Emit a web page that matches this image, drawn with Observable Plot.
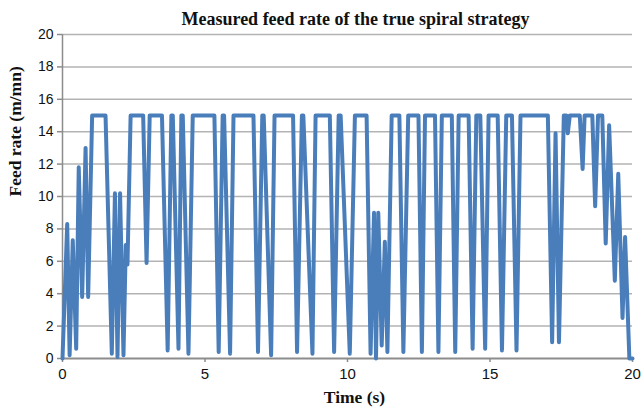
<!DOCTYPE html>
<html>
<head>
<meta charset="utf-8">
<script src="https://cdn.jsdelivr.net/npm/d3@7"></script>
<script src="https://cdn.jsdelivr.net/npm/@observablehq/plot@0.6"></script>
<style>
  html, body { margin: 0; padding: 0; background: #fff; }
  #chart svg { display: block; }
</style>
</head>
<body>
<div id="chart"></div>
<script>
const chartTitle = "Measured feed rate of the true spiral strategy";
const xTitle = "Time (s)";
const yTitle = "Feed rate (m/mn)";
const xTicks = [0, 5, 10, 15, 20];
const yTicks = [0, 2, 4, 6, 8, 10, 12, 14, 16, 18, 20];

const time = [
  0, 0.165, 0.25, 0.36, 0.48, 0.57, 0.69, 0.81, 0.90, 1.04, 1.51, 1.73, 1.84, 1.93, 2.02, 2.14, 2.22, 2.28,
  2.39, 2.83, 2.95, 3.06, 3.49, 3.69, 3.82, 3.87, 4.07, 4.17, 4.22, 4.42, 4.57, 5.33, 5.48, 5.62, 5.67, 5.88,
  6.0, 6.70, 6.86, 7.01, 7.06, 7.32, 7.44, 8.09, 8.23, 8.40, 8.45, 8.77, 8.88, 9.38, 9.53, 9.69, 9.76, 10.08,
  10.26, 10.67, 10.81, 10.93, 11.0, 11.08, 11.2, 11.31, 11.40, 11.55, 11.82, 11.96, 12.13, 12.49, 12.61, 12.72,
  13.07, 13.19, 13.31, 13.66, 13.78, 13.90, 14.25, 14.39, 14.52, 14.66, 14.83, 14.95, 15.27, 15.42, 15.57, 15.77,
  15.93, 16.07, 17.03, 17.18, 17.30, 17.42, 17.59, 17.68, 17.73, 17.80, 18.15, 18.25, 18.32, 18.59, 18.69, 18.79,
  18.94, 19.06, 19.18, 19.38, 19.50, 19.65, 19.74, 19.89, 20.0
];
const feed = [
  0, 8.3, 0.2, 7.3, 0.6, 11.8, 3.8, 13.0, 3.8, 15, 15, 0.3, 10.2, 0.1, 10.2, 0.2, 7.0, 5.8,
  15, 15, 5.9, 15, 15, 0.5, 15, 15, 0.6, 15, 15, 0.3, 15, 15, 0.4, 15, 15, 0.3,
  15, 15, 0.4, 15, 15, 0.2, 15, 15, 0.4, 15, 15, 0.3, 15, 15, 0.4, 15, 15, 0.3,
  15, 15, 0.3, 9.0, 0, 9.0, 0.8, 7.2, 0.4, 15, 15, 0.4, 15, 15, 0.4, 15,
  15, 0.4, 15, 15, 0.4, 15, 15, 0.6, 15, 15, 0.6, 15, 15, 0.5, 15, 15,
  0.5, 15, 15, 1.0, 13.9, 1.0, 15, 15, 13.9, 15, 15, 11.7, 15, 15, 9.4, 15,
  15, 7.1, 14.4, 4.8, 11.4, 2.5, 7.5, 0, 0
];

const data = time.map((t, i) => ({t, v: feed[i]}));

const serif = "'Liberation Serif', 'Times New Roman', serif";
const sans = "'Liberation Sans', Arial, Helvetica, sans-serif";

const chart = Plot.plot({
  width: 642,
  height: 411,
  marginLeft: 62,
  marginRight: 10,
  marginTop: 34,
  marginBottom: 53,
  style: {fontFamily: sans, color: "#111", background: "#fff"},
  x: {domain: [0, 20], label: null},
  y: {domain: [0, 20], label: null},
  marks: [
    Plot.gridY(yTicks.filter(d => d > 0), {stroke: "#b3b3b3", strokeOpacity: 1, strokeWidth: 1.5}),
    Plot.axisY(yTicks, {tickSize: 5, tickPadding: 4, stroke: "#8c8c8c", strokeWidth: 1.5, fontSize: 14, fontFamily: sans, fill: "#111", label: null}),
    Plot.axisX(xTicks, {tickSize: 4, tickPadding: 6, stroke: "#8c8c8c", strokeWidth: 1.5, fontSize: 15, fontFamily: sans, fill: "#111", label: null}),
    Plot.ruleX([0], {stroke: "#8c8c8c", strokeWidth: 1.5}),
    Plot.ruleY([0], {stroke: "#8c8c8c", strokeWidth: 2}),
    Plot.line(data, {x: "t", y: "v", stroke: "#4a7ebb", strokeWidth: 4, strokeLinejoin: "round", strokeLinecap: "round"}),
    Plot.text([chartTitle], {text: d => d, frameAnchor: "top", dy: -15, dx: 8, fontFamily: serif, fontWeight: "bold", fontSize: 18, fill: "#111", lineAnchor: "middle"}),
    Plot.text([xTitle], {text: d => d, frameAnchor: "bottom", dy: 39, dx: 7, fontFamily: serif, fontWeight: "bold", fontSize: 17.5, fill: "#111", lineAnchor: "middle"}),
    Plot.text([yTitle], {text: d => d, frameAnchor: "left", dx: -47, rotate: -90, fontFamily: serif, fontWeight: "bold", fontSize: 17.5, fill: "#111", lineAnchor: "middle"})
  ]
});
document.getElementById("chart").appendChild(chart);
</script>
</body>
</html>
